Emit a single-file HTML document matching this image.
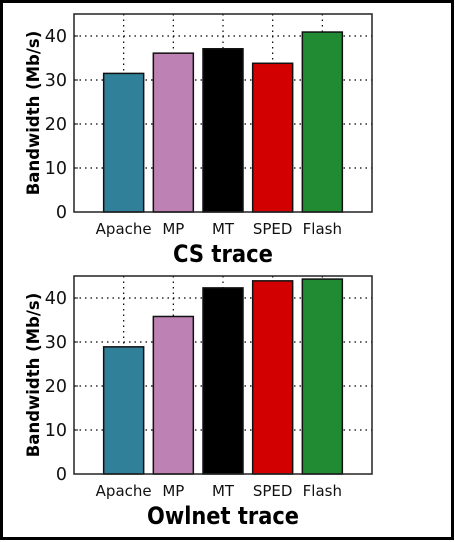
<!DOCTYPE html>
<html><head><meta charset="utf-8"><style>
html,body{margin:0;padding:0;background:#fff}
svg{display:block}
text{font-family:"DejaVu Sans","Liberation Sans",sans-serif}
</style></head><body>
<svg id="chart" width="455" height="542" viewBox="0 0 455 542">
<rect x="1.5" y="1.5" width="451" height="537" fill="#fff" stroke="#000" stroke-width="3"/>
</svg>
<script>
const categories = ["Apache","MP","MT","SPED","Flash"];
const csValues = [31.5, 36.1, 37.1, 33.8, 40.9];
const owlnetValues = [28.9, 35.8, 42.3, 43.9, 44.3];
const yTicks = [0,10,20,30,40];
const colors = ["#31809a","#bd82b3","#000000","#d20000","#218b34"];
const titles = ["CS trace","Owlnet trace"];

const NS="http://www.w3.org/2000/svg";
const svg=document.getElementById('chart');
function mk(tag,attrs,parent){const e=document.createElementNS(NS,tag);for(const k in attrs)e.setAttribute(k,attrs[k]);(parent||svg).appendChild(e);return e;}

function drawPanel(values,title,top,name){
  const L=74,R=372,B=top+198,T=top;
  const g=mk('g',{});
  
  
  const y=v=>B-(v/45)*(B-T);
  const x=i=>L+(i+1)*(R-L)/6;
  yTicks.forEach(t=>{
    if(t>0){const l=mk('line',{x1:L,x2:R,y1:y(t),y2:y(t),stroke:'#000','stroke-width':1.2,'stroke-dasharray':'1.5,4'},g);
    
    }
    const tk=mk('line',{x1:L,x2:L+4,y1:y(t),y2:y(t),stroke:'#000'},g);
    
    
    const tx=mk('text',{x:L-7,y:y(t)+6,'text-anchor':'end','font-size':17.5,fill:'#111'},g);
    tx.textContent=t;
    
    
  });
  categories.forEach((c,i)=>{
    const l=mk('line',{x1:x(i),x2:x(i),y1:T,y2:B,stroke:'#000','stroke-width':1.2,'stroke-dasharray':'1.5,4'},g);
    
    
  });
  categories.forEach((c,i)=>{
    const r=mk('rect',{x:x(i)-20,y:y(values[i]),width:40,height:B-y(values[i]),fill:colors[i],stroke:'#111','stroke-width':1.5},g);
    
    
    const tx=mk('text',{x:x(i),y:B+22,'text-anchor':'middle','font-size':15,fill:'#111'},g);
    tx.textContent=c;
    
    
  });
  const fr=mk('rect',{x:L,y:T,width:R-L,height:B-T,fill:'none',stroke:'#222','stroke-width':1.5},g);
  
  
  const yl=mk('text',{x:0,y:0,transform:`translate(39,${(T+B)/2}) rotate(-90)`,'text-anchor':'middle','font-size':16.5,'font-weight':'bold',fill:'#000'},g);
  yl.textContent='Bandwidth (Mb/s)';
  
  
  const tt=mk('text',{x:223,y:B+50,'text-anchor':'middle','font-size':24,'font-weight':'bold',fill:'#000','textLength':title.length>8?152:100,'lengthAdjust':'spacingAndGlyphs'},g);
  tt.textContent=title;
  
  
}
drawPanel(csValues,titles[0],14,'cs-trace');
drawPanel(owlnetValues,titles[1],276,'owlnet-trace');
</script>
</body></html>
